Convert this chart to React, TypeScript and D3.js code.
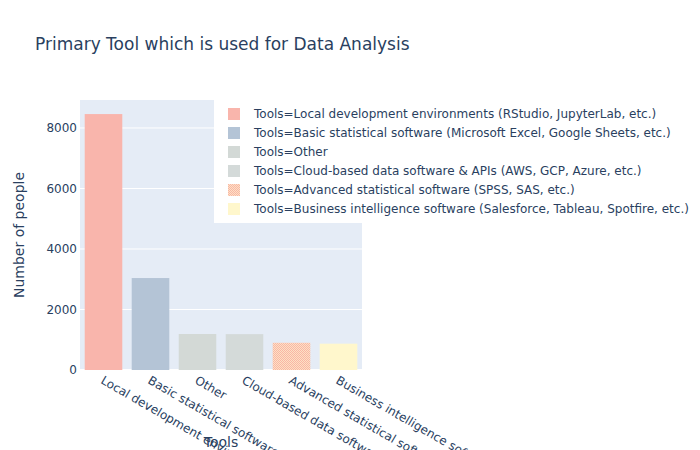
import React from "react";
import * as d3 from "d3";

const categories = [
  "Local development environments (RStudio, JupyterLab, etc.)",
  "Basic statistical software (Microsoft Excel, Google Sheets, etc.)",
  "Other",
  "Cloud-based data software & APIs (AWS, GCP, Azure, etc.)",
  "Advanced statistical software (SPSS, SAS, etc.)",
  "Business intelligence software (Salesforce, Tableau, Spotfire, etc.)",
];
const values = [8460, 3040, 1190, 1185, 900, 870];
const colors = ["#F9B5AC", "#B4C4D6", "#D3D9D6", "#D4DAD9", "url(#advPat)", "#FFF7CC"];
const yTicks = [0, 2000, 4000, 6000, 8000];

const W = 700;
const H = 450;
const M = { left: 80, right: 362, top: 100, bottom: 370 };
const FONT = '"DejaVu Sans", Verdana, sans-serif';
const TXT = "#2a3f5f";

export default function App() {
  const x = d3
    .scaleBand<string>()
    .domain(categories)
    .range([M.left, M.right])
    .paddingInner(0.2)
    .paddingOuter(0.1);
  const y = d3.scaleLinear().domain([0, 8925]).range([M.bottom, M.top]);

  return (
    <svg
      width={W}
      height={H}
      style={{ position: "absolute", left: 0, top: 0, background: "#fff" }}
      fontFamily={FONT}
    >
      <defs>
        <pattern id="advPat" width="2" height="2" patternUnits="userSpaceOnUse">
          <rect x="0" y="0" width="2" height="2" fill="#FDE2C4" />
          <rect x="0" y="0" width="1" height="1" fill="#F9B5A6" />
          <rect x="1" y="1" width="1" height="1" fill="#F9B5A6" />
        </pattern>
      </defs>
      <rect x={M.left} y={M.top} width={M.right - M.left} height={M.bottom - M.top} fill="#E5ECF6" />
      {yTicks.map((t) => (
        <g key={t}>
          <line x1={M.left} x2={M.right} y1={y(t)} y2={y(t)} stroke="#fff" strokeWidth={t === 0 ? 2 : 1} />
          <text x={M.left - 3} y={y(t)} dy="0.35em" textAnchor="end" fontSize={12} fill={TXT}>
            {t}
          </text>
        </g>
      ))}
      {categories.map((c, i) => (
        <rect
          key={c}
          x={x(c)!}
          y={y(values[i])}
          width={x.bandwidth()}
          height={y(0) - y(values[i])}
          fill={colors[i]}
        />
      ))}
      {categories.map((c) => {
        const cx = x(c)! + x.bandwidth() / 2;
        return (
          <text
            key={c}
            transform={`translate(${cx + 1},${375}) rotate(30)`}
            dy="0.75em"
            fontSize={12}
            fill={TXT}
          >
            {c}
          </text>
        );
      })}
      <text x={35} y={50} fontSize={17} fill={TXT}>
        Primary Tool which is used for Data Analysis
      </text>
      <text
        transform={`translate(24,${(M.top + M.bottom) / 2}) rotate(-90)`}
        textAnchor="middle"
        fontSize={14}
        fill={TXT}
      >
        Number of people
      </text>
      <text x={(M.left + M.right) / 2} y={447} textAnchor="middle" fontSize={14} fill={TXT}>
        Tools
      </text>
      <g>
        <rect x={214} y={95} width={486} height={128} fill="#fff" />
        {categories.map((c, i) => (
          <g key={c} transform={`translate(0,${114 + i * 19})`}>
            <rect x={228} y={-6} width={12} height={12} fill={colors[i]} />
            <text x={254} dy="0.35em" fontSize={12} fill={TXT}>
              {"Tools=" + c}
            </text>
          </g>
        ))}
      </g>
    </svg>
  );
}
